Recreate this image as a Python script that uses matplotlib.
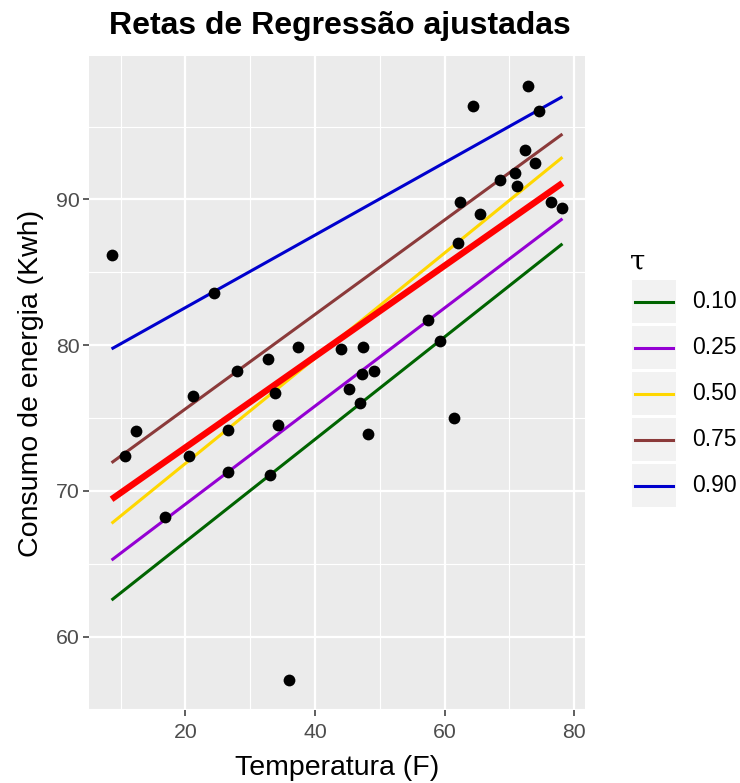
import numpy as np
import matplotlib.pyplot as plt
from matplotlib.patches import Rectangle

plt.rcParams['font.family'] = ['Liberation Sans', 'DejaVu Sans']

# observed data (temperature F, energy consumption Kwh)
temperatura = [8.6, 10.6, 12.4, 16.9, 20.5, 21.1, 24.35, 26.5, 26.6, 27.95,
               32.7, 33.1, 33.8, 34.3, 36.0, 37.4, 43.95, 45.3, 47.0, 47.2,
               47.4, 48.2, 49.1, 57.5, 59.3, 61.4, 62.0, 62.4, 64.4, 65.5,
               68.5, 70.9, 71.2, 72.4, 72.9, 74.0, 74.6, 76.5, 78.2]
consumo = [86.2, 72.4, 74.1, 68.2, 72.4, 76.5, 83.6, 74.2, 71.3, 78.2,
           79.05, 71.1, 76.7, 74.5, 57.0, 79.85, 79.7, 77.0, 76.0, 78.05,
           79.85, 73.9, 78.2, 81.7, 80.3, 75.0, 87.0, 89.8, 96.4, 89.0,
           91.3, 91.8, 90.9, 93.4, 97.8, 92.5, 96.1, 89.8, 89.4]

# quantile regression fits
taus = ['0.10', '0.25', '0.50', '0.75', '0.90']
interceptos = [59.48, 62.35, 64.66, 69.14, 77.60]
inclinacoes = [0.3513, 0.3366, 0.3610, 0.3241, 0.2487]
cores = ['#006400', '#9400D3', '#FFD700', '#8B3A3A', '#0000CD']

# least squares fit (thick red line)
ols_int, ols_slope = 66.74, 0.3118

fig = plt.figure(figsize=(7.4, 7.83), dpi=100)
ax = fig.add_axes([89 / 740, 1 - 710 / 783, 496 / 740, 654 / 783])
ax.set_facecolor('#EBEBEB')

x = np.array(temperatura)
y = np.array(consumo)
xs = np.array([x.min(), x.max()])

ax.scatter(x, y, s=72, color='black', zorder=3, linewidths=0)
for b0, b1, c in zip(interceptos, inclinacoes, cores):
    ax.plot(xs, b0 + b1 * xs, color=c, lw=2.2, zorder=2, solid_capstyle='butt')
ax.plot(xs, ols_int + ols_slope * xs, color='red', lw=4.6, zorder=2, solid_capstyle='butt')

dx = (x.max() - x.min()) * 0.05
dy = (y.max() - y.min()) * 0.05
ax.set_xlim(x.min() - dx, x.max() + dx)
ax.set_ylim(y.min() - dy, y.max() + dy)

ax.set_xticks([20, 40, 60, 80])
ax.set_yticks([60, 70, 80, 90])
ax.set_xticks([10, 30, 50, 70], minor=True)
ax.set_yticks([55, 65, 75, 85, 95], minor=True)
ax.grid(which='major', color='white', lw=1.6)
ax.grid(which='minor', color='white', lw=0.8)
ax.set_axisbelow(True)
for s in ax.spines.values():
    s.set_visible(False)
ax.tick_params(which='major', length=4, width=1.1, color='#333333',
               labelsize=15.3, labelcolor='#4D4D4D', pad=3)
ax.tick_params(axis='x', which='major', pad=5)
ax.tick_params(which='minor', length=0)

ax.set_xlabel('Temperatura (F)', fontsize=20.5, labelpad=10)
ax.set_ylabel('Consumo de energia (Kwh)', fontsize=20.5, labelpad=8)
fig.text(340 / 740, 1 - 26 / 783, 'Retas de Regressão ajustadas', fontsize=23,
         fontweight='bold', ha='center', va='center')

# legend drawn by hand, ggplot style
lax = fig.add_axes([0, 0, 1, 1])
lax.set_xlim(0, 740)
lax.set_ylim(783, 0)
lax.axis('off')
lax.text(630, 262, 'τ', fontsize=20, ha='left', va='center',
         family=['DejaVu Serif'])
for i, (t, c) in enumerate(zip(taus, cores)):
    top = 280 + i * 46
    lax.add_patch(Rectangle((632, top), 44, 43, facecolor='#F2F2F2', edgecolor='none'))
    lax.plot([635, 673], [top + 21.5, top + 21.5], color=c, lw=2.2)
    lax.text(692, top + 22, t, fontsize=16.5, ha='left', va='center')

fig.savefig('out.png', dpi=100)
